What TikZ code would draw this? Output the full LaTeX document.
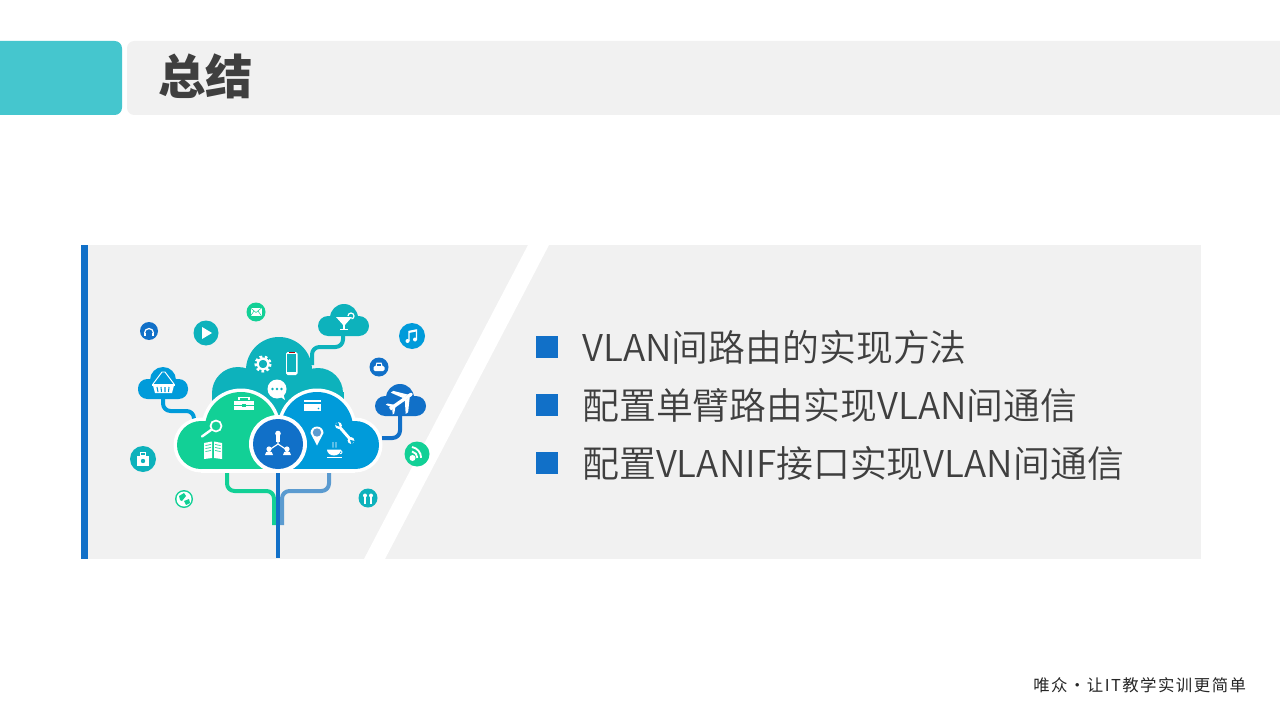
\documentclass[tikz,border=0pt]{standalone}
\usepackage{fontspec}
\newfontfamily\cjk{Noto Sans CJK SC}
\newfontfamily\cjklight{Noto Sans CJK SC DemiLight}
\newfontfamily\cjkfoot[LetterSpace=9]{Noto Sans CJK SC}
\definecolor{teala}{HTML}{45C6CE}
\definecolor{panel}{HTML}{F1F1F1}
\definecolor{dblue}{HTML}{1170C8}
\definecolor{ink}{HTML}{3F3F3F}
\definecolor{tealc}{HTML}{0DB2BC}
\definecolor{greenc}{HTML}{12D096}
\definecolor{bluec}{HTML}{009BDA}
\definecolor{lblue}{HTML}{5B9BD0}
\newcommand\disc[3]{\fill[#1] (#2) circle (#3);}
\tikzset{
  wire/.style={line width=3pt,line join=round,rounded corners=5.6pt},
  bullettext/.style={anchor=west,inner sep=0pt,text=ink,font=\cjklight\fontsize{27.65}{28}\selectfont},
  sq/.style={fill=dblue,draw=none}
}
\begin{document}
\begin{tikzpicture}[x=0.75pt,y=-0.75pt]
\useasboundingbox (0,0) rectangle (1280,720);
\fill[white] (0,0) rectangle (1280,720);
% header
\fill[teala,rounded corners=5.5pt] (-20,41) rectangle (122,115);
\fill[panel,rounded corners=5.5pt] (127,41) rectangle (1300,115);
\node[anchor=west,inner sep=0pt,text=ink,font=\cjk\bfseries\fontsize{35.5}{36}\selectfont] (title) at (158,76) {总结};
% panel
\fill[panel] (81,245) rectangle (1201,559);
\fill[dblue] (81,245) rectangle (88,559);
\fill[white] (528,245) -- (549,245) -- (385,559) -- (364,559) -- cycle;
% wires
\draw[wire,greenc] (227,470) -- (227,491) -- (274,491) -- (274,525);
\draw[wire,lblue] (329,470) -- (329,491) -- (282,491) -- (282,525);
\draw[dblue,line width=3pt] (278,470) -- (278,558);
\draw[wire,tealc] (312,365) -- (312,347) -- (343,347) -- (343,332);
\draw[wire,bluec] (163,395) -- (163,411) -- (194,411) -- (194,420);
\draw[wire,dblue] (400,412) -- (400,438) -- (382,438);
% back cloud
\disc{tealc}{279,370}{33}
\disc{tealc}{238,393}{26}
\disc{tealc}{318,393}{25}
\fill[tealc] (212,392) rectangle (344,440);
% white halo
\disc{white}{241,428}{39.5}
\disc{white}{201,445}{27.5}
\disc{white}{317,428}{39.5}
\disc{white}{355,445}{27.5}
\fill[white] (201,417.5) rectangle (355,472.5);
% green and blue
\disc{greenc}{241,428}{36}
\disc{greenc}{201,445}{24}
\fill[greenc] (201,421) rectangle (278,469);
\disc{bluec}{317,428}{36}
\disc{bluec}{355,445}{24}
\fill[bluec] (278,421) rectangle (355,469);
% centre
\disc{white}{278,444}{29}
\disc{dblue}{278,444}{25}
% people icon
\draw[white,line width=.9pt] (278,444) -- (278,436) (278,444) -- (269,450) (278,444) -- (287,450);
\disc{white}{278,433.5}{2.8}
\fill[white] (276,435) rectangle (280,442);
\disc{white}{269,449}{2.6}
\fill[white] (265,455) arc (180:360:4) -- cycle;
\disc{white}{287,449}{2.6}
\fill[white] (283,455) arc (180:360:4) -- cycle;
% gear
\draw[white,line width=1.6pt] (263,364) circle (5.5);
\draw[white,line width=2pt,dash pattern=on 2pt off 1.8pt] (263,364) circle (7.2);
% phone
\fill[white,rounded corners=1.2pt] (286,352) rectangle (297.5,375);
\fill[tealc] (287.3,354) rectangle (296.2,371.5);
\fill[red!70!black] (289,351.6) rectangle (294.5,352.6);
% speech bubble
\disc{white}{277,389}{9.5}
\fill[white] (279,396) -- (285,400) -- (283,393) -- cycle;
\disc{tealc}{272.5,389}{1.4}
\disc{tealc}{277,389}{1.4}
\disc{tealc}{281.5,389}{1.4}
% briefcase
\fill[white] (234,400.5) rectangle (254,410);
\draw[white,line width=.9pt] (239,400) -- (239,397.2) -- (249,397.2) -- (249,400);
\fill[greenc] (234,404.5) rectangle (254,405.3);
\fill[greenc] (242,403.5) rectangle (246,406.5);
% magnifier
\draw[white,line width=1.3pt] (216,426) circle (5.5);
\draw[white,line width=1.8pt,line cap=round] (211,430) -- (202,436.5);
% book
\fill[white] (204,443) -- (212,441.5) -- (212,458) -- (204,459) -- cycle;
\fill[white] (214,441.5) -- (222,443) -- (222,459) -- (214,458) -- cycle;
\draw[greenc,line width=.5pt] (205.5,445.5) -- (211,444.5) (205.5,448.5) -- (211,447.5) (205.5,451.5) -- (211,450.5)
  (215,444.5) -- (220.5,445.5) (215,447.5) -- (220.5,448.5) (215,450.5) -- (220.5,451.5);
% card
\fill[white] (304,400) rectangle (321,401.5);
\fill[white] (304,403.5) rectangle (321,411);
\disc{bluec}{318.5,408.5}{.8}
% pin
\fill[white] (310.5,433) arc (180:360:6.5) -- (317,445.5) -- cycle;
\disc{lblue}{317,432.5}{4.2}
% wrench
\draw[white,line width=2.2pt] (340,427.5) -- (350,439);
\disc{white}{338.5,425.5}{3.4}
\disc{white}{351,440.5}{3.4}
\fill[bluec] (335,425) -- (339.5,426.5) -- (338,421.5) -- cycle;
\fill[bluec] (354.5,441) -- (350,439.8) -- (351.5,444.5) -- cycle;
% cup
\fill[white] (327,449.5) -- (341,449.5) arc (0:180:7 and 6) -- cycle;
\draw[white,line width=.7pt] (340,450.5) arc (-90:90:2 and 1.6);
\fill[white] (327,456.8) rectangle (342,457.6);
\draw[white,line width=.6pt] (333,447.5) .. controls (332,445) and (334,444.5) .. (333,442)
  (336,447.5) .. controls (335,445) and (337,444.5) .. (336,442);
% small clouds
\disc{bluec}{163,380}{13}
\fill[bluec,rounded corners=7pt] (138,379) rectangle (188,399);
\disc{tealc}{344,318}{14}
\fill[tealc,rounded corners=7.5pt] (318,316) rectangle (369,336);
\disc{dblue}{400,398}{14}
\fill[dblue,rounded corners=7.5pt] (375,396) rectangle (426,416);
% basket
\fill[white] (152,383.5) rectangle (175,385.5);
\draw[white,line width=.7pt] (153,384) -- (162,372) -- (165,372) -- (174,384);
\fill[white] (153,385.5) -- (174,385.5) -- (172,393) -- (155,393) -- cycle;
\draw[bluec,line width=.8pt] (157,387) -- (158,392) (161,387) -- (161.5,392) (165,387) -- (165,392) (169,387) -- (168.5,392);
% cocktail
\fill[white] (336,317) -- (352,317) -- (344,326) -- cycle;
\fill[white] (343.4,325) rectangle (344.6,330);
\fill[white] (340,329.3) rectangle (348,330.2);
\draw[white,line width=.9pt] (348,316) arc (180:440:3);
% plane
\begin{scope}[shift={(401.5,401)},rotate=35]
\fill[white] (-14,-1.7) -- (11,-1.7) .. controls (14,-1.7) and (14,1.7) .. (11,1.7) -- (-14,1.7) -- cycle;
\fill[white] (3,-1.5) -- (-4,-13) -- (-1,-13) -- (9,-1.5) -- cycle;
\fill[white] (3,1.5) -- (-4,13) -- (-1,13) -- (9,1.5) -- cycle;
\fill[white] (-12,-1) -- (-15,-6) -- (-13,-6) -- (-8,-1) -- cycle;
\fill[white] (-12,1) -- (-15,6) -- (-13,6) -- (-8,1) -- cycle;
\end{scope}
% circle icons
\disc{dblue}{149,331}{9}
\draw[white,line width=.9pt] (144.5,333) arc (180:360:4.5);
\fill[white] (144,332.5) rectangle (146,336);
\fill[white] (152,332.5) rectangle (154,336);
\disc{tealc}{206,333}{12.5}
\fill[white] (202,327) -- (212,333) -- (202,339) -- cycle;
\disc{greenc}{256,312}{9.5}
\fill[white] (250.5,308) rectangle (261.5,316);
\draw[greenc,line width=.4pt] (250.5,308) -- (256,312.5) -- (261.5,308) (250.5,316) -- (254,311) (261.5,316) -- (258,311);
\disc{bluec}{412,336}{13}
\disc{white}{407.5,341}{2}
\disc{white}{415,339.5}{2}
\draw[white,line width=1pt] (409,341) -- (409,331.5) -- (416.5,330) -- (416.5,339.5);
\draw[white,line width=1.4pt] (409,332) -- (416.5,330.5);
\disc{dblue}{379,367}{9.5}
\fill[white,rounded corners=1pt] (373.5,366) rectangle (384.5,371);
\fill[white] (375.5,366) -- (376.5,362.5) -- (381.5,362.5) -- (382.5,366) -- cycle;
\fill[dblue] (377,363.6) rectangle (381,365.6);
\disc{greenc}{417,454}{12.5}
\disc{white}{412.5,458}{3}
\draw[white,line width=1.4pt] (412,451.5) arc (-80:0:6.5) (412,447) arc (-80:0:11);
\disc{tealc}{143,459}{13}
\fill[white] (137,456) rectangle (149,466);
\draw[white,line width=.8pt] (140.5,452.5) rectangle (145.5,455.5);
\disc{tealc}{143,461}{2.2}
\disc{greenc}{184,499}{9}
\disc{white}{184,499}{7.5}
\fill[greenc] (179,496) -- (184,493) -- (186,496) -- (182,501) -- (180,500) -- cycle;
\fill[greenc] (184,501) -- (189,499) -- (190,503) -- (186,505) -- cycle;
\disc{tealc}{368,498}{9.5}
\disc{white}{365,495.5}{2}
\disc{white}{371,495.5}{2}
\draw[white,line width=.8pt] (365,496) -- (365,504) (371,496) -- (371,504);
% bullets
\fill[sq] (536,336) rectangle (558,358);
\fill[sq] (536,394) rectangle (558,416);
\fill[sq] (536,452) rectangle (558,474);
\node[bullettext] (t1) at (582,347) {VLAN间路由的实现方法};
\node[bullettext] (t2) at (582,405) {配置单臂路由实现VLAN间通信};
\node[bullettext] (t3) at (582,463) {配置VLANIF接口实现VLAN间通信};
% footer
\node[anchor=west,inner sep=0pt,text=black!85,font=\cjkfoot\fontsize{12.3}{13}\selectfont] (foot) at (1033,685) {唯众{\textbullet}让IT教学实训更简单};
\end{tikzpicture}
\end{document}
